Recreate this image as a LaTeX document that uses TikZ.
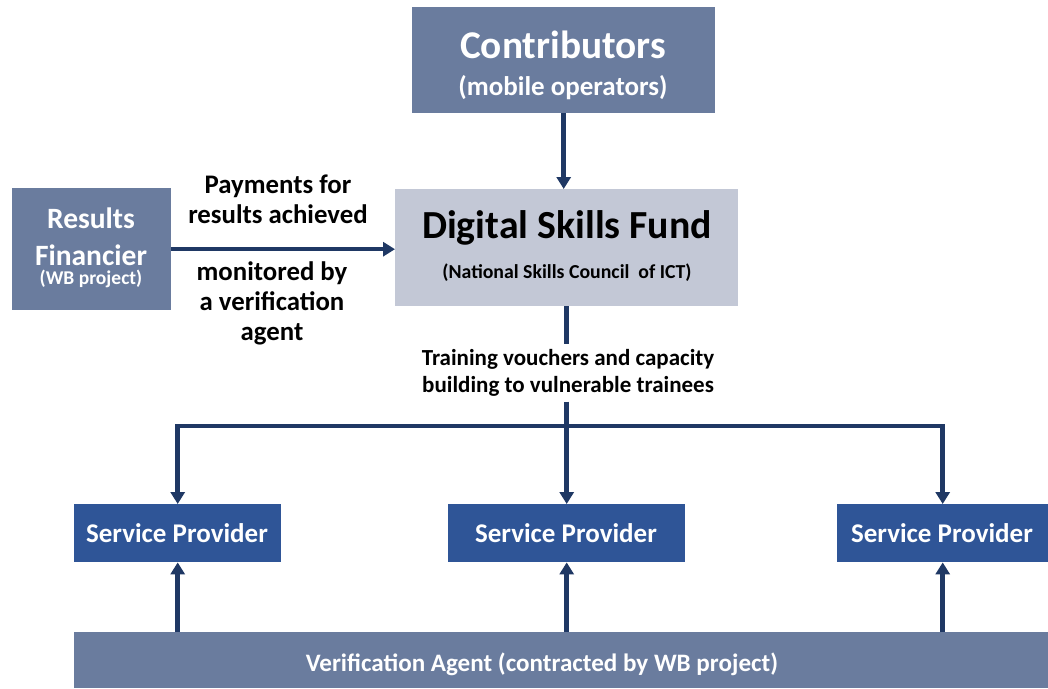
\documentclass[tikz,border=0pt]{standalone}
\usepackage{fontspec}
\setmainfont{Carlito}
\usetikzlibrary{arrows.meta}
\definecolor{slate}{HTML}{6A7C9E}
\definecolor{mist}{HTML}{C3C8D6}
\definecolor{royal}{HTML}{2F5597}
\definecolor{navy}{HTML}{1F3864}
% font size given in pixels (1px = 1pt here)
\newcommand\pxsize[1]{\fontsize{#1}{#1}\selectfont\bfseries}
% font size and line spacing, both in pixels
\newcommand\pxlead[2]{\fontsize{#1}{#2}\selectfont\bfseries}
\begin{document}
\begin{tikzpicture}[x=1pt,y=-1pt,
  box/.style={rectangle, draw=none, inner sep=0pt, anchor=north west},
  slatebox/.style={box, fill=slate},
  spbox/.style={box, fill=royal, minimum height=58},
  txt/.style={inner sep=0pt, anchor=base},
  flow/.style={draw=navy, line width=4.5pt, -{Triangle[width=14pt,length=12pt]}},
  plain/.style={draw=navy, line width=4.5pt}]
\path[use as bounding box, fill=white] (0,0) rectangle (1048,688);

% boxes
\node[slatebox, minimum width=303, minimum height=106] (contrib) at (412,7) {};
\node[box, fill=mist, minimum width=343, minimum height=117] (dsf) at (395,189) {};
\node[slatebox, minimum width=159, minimum height=122] (rf) at (12,188) {};
\node[spbox, minimum width=207] (sp1) at (74,504) {};
\node[spbox, minimum width=237] (sp2) at (448,504) {};
\node[spbox, minimum width=211] (sp3) at (837,504) {};
\node[slatebox, minimum width=974, minimum height=56] (va) at (74,632) {};

% box texts
\node[txt, white] (contribA) at (563,58) {\pxsize{39.3}Contributors};
\node[txt, white] (contribB) at (563,95) {\pxsize{27}(mobile operators)};
\node[txt] (dsfA) at (567,238) {\pxsize{39.8}Digital Skills Fund};
\node[txt] (dsfB) at (567,278) {\pxsize{19.8}(National Skills Council\ \ of ICT)};
\node[txt, white] (rfA) at (91,228) {\pxsize{29.5}Results};
\node[txt, white] (rfB) at (91,265) {\pxsize{29.5}Financier};
\node[txt, white] (rfC) at (91,284) {\pxsize{19.5}(WB project)};
\node[txt, white] (sp1t) at (177,542) {\pxsize{27}Service Provider};
\node[txt, white] (sp2t) at (566,542) {\pxsize{27}Service Provider};
\node[txt, white] (sp3t) at (942,542) {\pxsize{27}Service Provider};
\node[txt, white] (vat) at (542,671) {\pxsize{25.1}Verification Agent (contracted by WB project)};

% payment labels
\node[txt] (payA) at (278,193) {\pxsize{26.8}Payments for};
\node[txt] (payB) at (278,223) {\pxsize{26.8}results achieved};
\node[txt] (monA) at (272,280) {\pxsize{26.8}monitored by};
\node[txt] (monB) at (272,310) {\pxsize{26.8}a verification};
\node[txt] (monC) at (272,340) {\pxsize{26.8}agent};

% training label, sitting on the downward line
\node[fill=white, align=center, inner xsep=4pt, inner ysep=5pt,
      font={\pxlead{23}{27}}] (train) at (568,373)
  {Training vouchers and capacity\\building to vulnerable trainees};

% connectors
\draw[flow] (contrib.south) -- (contrib.south |- dsf.north);
\draw[flow] (rf.east) -- (rf.east -| dsf.west);
\draw[plain] (dsf.south) -- (dsf.south |- train.north);
\coordinate (hub) at (566.5,426);
\draw[flow] (dsf.south |- train.south) -- (sp2.north);
\draw[flow] (hub) -| (sp1.north);
\draw[flow] (hub) -| (sp3.north);
\draw[flow] (sp1.south |- va.north) -- (sp1.south);
\draw[flow] (sp2.south |- va.north) -- (sp2.south);
\draw[flow] (sp3.south |- va.north) -- (sp3.south);
\end{tikzpicture}
\end{document}
